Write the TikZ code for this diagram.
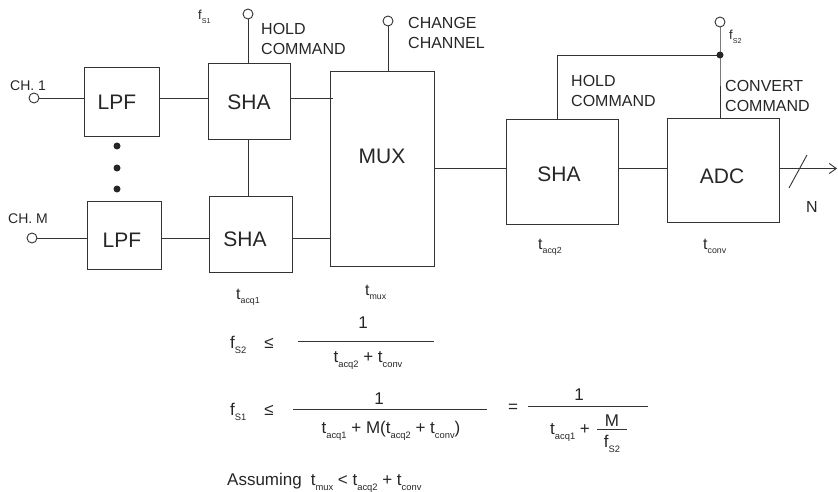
\documentclass[tikz,border=0pt]{standalone}
\usepackage{fontspec}
\setmainfont{Liberation Sans}
\usetikzlibrary{arrows.meta,calc}
\newcommand{\sbx}[1]{\raisebox{-0.3em}{\scalebox{0.55}{#1}}}
\begin{document}
\begin{tikzpicture}[x=1pt,y=-1pt,
  ln/.style={draw=black!80,line width=0.9pt},
  blk/.style={ln,rectangle,inner sep=0pt},
  term/.style={ln,circle,minimum size=10pt,inner sep=0pt,fill=white},
  blkt/.style={font=\fontsize{21}{21}\selectfont,anchor=base,inner sep=0pt,text=black!85},
  lbl/.style={font=\fontsize{16}{20}\selectfont,anchor=base west,inner sep=0pt,align=left,text=black!85},
  chl/.style={font=\fontsize{14}{16}\selectfont,anchor=base west,inner sep=0pt,text=black!85},
  tl/.style={font=\fontsize{16}{18}\selectfont,anchor=base west,inner sep=0pt,text=black!85},
  eq/.style={font=\fontsize{17}{19}\selectfont,anchor=base,inner sep=0pt,text=black!85},
  dotf/.style={fill=black!85}]
\useasboundingbox (0,0) rectangle (838,492);

% blocks
\node[blk,minimum width=75pt,minimum height=69pt] (lpf1) at (121.5,101.5) {};
\node[blk,minimum width=74pt,minimum height=68pt] (lpf2) at (124,235) {};
\node[blk,minimum width=82pt,minimum height=76pt] (sha1) at (249,101) {};
\node[blk,minimum width=83pt,minimum height=76pt] (sha2) at (250.5,234) {};
\node[blk,minimum width=104pt,minimum height=195pt] (mux) at (382,168.5) {};
\node[blk,minimum width=112pt,minimum height=105pt] (sha3) at (562,171.5) {};
\node[blk,minimum width=112pt,minimum height=104pt] (adc) at (723,170) {};

\node[blkt] (tlpf1) at (117,110) {LPF};
\node[blkt] (tlpf2) at (122,247) {LPF};
\node[blkt] (tsha1) at (249,110) {SHA};
\node[blkt] (tsha2) at (245,246) {SHA};
\node[blkt] (tmux) at (382,164) {MUX};
\node[blkt] (tsha3) at (559,182) {SHA};
\node[blkt] (tadc) at (722,183) {ADC};

% terminals
\node[term] (c1) at (34,98) {};
\node[term] (cm) at (32,238) {};
\node[term] (h1) at (248,14) {};
\node[term] (cc) at (388,21) {};
\node[term] (f2) at (720,22) {};
\coordinate (j) at (720,55);
\coordinate (k) at (557,55);
\coordinate (out) at (837,168.5);

% connectors
\draw[ln] (c1.east) -- (c1.east -| lpf1.west);
\draw[ln] (c1 -| lpf1.east) -- (c1 -| sha1.west);
\draw[ln] (c1 -| sha1.east) -- ($(c1 -| mux.west)+(3,0)$);
\draw[ln] (cm.east) -- (cm.east -| lpf2.west);
\draw[ln] (cm -| lpf2.east) -- (cm -| sha2.west);
\draw[ln] (cm -| sha2.east) -- (cm -| mux.west);
\draw[ln] (sha1.south -| h1) -- (h1 |- sha2.north);
\draw[ln] (h1.south) -- (h1.south |- sha1.north);
\draw[ln] (cc.south) -- (cc.south |- mux.north);
\draw[ln] (mux.east) -- (mux.east -| sha3.west);
\draw[ln] (mux.east -| sha3.east) -- (mux.east -| adc.west);
\draw[ln,-{Straight Barb[length=7pt,width=10pt]}] (mux.east -| adc.east) -- (out);
\draw[ln] (f2.south) -- (j) -- (j |- adc.north);
\draw[ln] (j) -- (k) -- (k |- sha3.north);
\fill[dotf] (j) circle (3.5);
\draw[ln] (789,188) -- (807,155);

% channel dots
\fill[dotf] (117,146) circle (3.5);
\fill[dotf] (117,168) circle (3.5);
\fill[dotf] (117,189) circle (3.5);

% labels
\node[chl] (lch1) at (10,91) {CH. 1};
\node[chl] (lchm) at (8,223) {CH. M};
\node[font=\fontsize{13}{13}\selectfont,anchor=base west,inner sep=0pt,text=black!85] (lfs1) at (198,20) {f\sbx{S1}};
\node[lbl] (lhold1) at (261,55) {HOLD\\COMMAND};
\node[lbl] (lchg) at (408,49) {CHANGE\\CHANNEL};
\node[lbl] (lhold2) at (571,107) {HOLD\\COMMAND};
\node[lbl] (lconv) at (725,112) {CONVERT\\COMMAND};
\node[font=\fontsize{13}{13}\selectfont,anchor=base west,inner sep=0pt,text=black!85] (lfs2) at (729,40) {f\sbx{S2}};
\node[lbl] (ln) at (806,212) {N};
\node[tl] (ltacq1) at (236,299) {t\sbx{acq1}};
\node[tl] (ltmux) at (365,295) {t\sbx{mux}};
\node[tl] (ltacq2) at (538,249) {t\sbx{acq2}};
\node[tl] (ltconv) at (703,249) {t\sbx{conv}};

% equations
\node[eq,anchor=base west] (e1f) at (230,348) {f\sbx{S2}};
\node[eq] (e1le) at (269,348) {≤};
\node[eq] (e1n) at (363,328) {1};
\draw[ln] (298,341) -- (434,341);
\node[eq] (e1d) at (368,362) {t\sbx{acq2} + t\sbx{conv}};

\node[eq,anchor=base west] (e2f) at (230,415) {f\sbx{S1}};
\node[eq] (e2le) at (269,415) {≤};
\node[eq] (e2n) at (379,404) {1};
\draw[ln] (293,409) -- (487,409);
\node[eq] (e2d) at (391,433) {t\sbx{acq1} + M(t\sbx{acq2} + t\sbx{conv})};
\node[eq,anchor=center] (e2eq) at (513,408) {=};
\node[eq] (e3n) at (579,400) {1};
\draw[ln] (528,406) -- (648,406);
\node[eq,anchor=base west] (e3d) at (550,434) {t\sbx{acq1} +};
\node[eq] (e3m) at (612,426) {M};
\draw[ln] (597,429) -- (627,429);
\node[eq] (e3f) at (612,447) {f\sbx{S2}};

\node[eq,anchor=base west] (eass) at (227,485) {Assuming\hspace{9pt}t\sbx{mux} < t\sbx{acq2} + t\sbx{conv}};
\end{tikzpicture}
\end{document}
